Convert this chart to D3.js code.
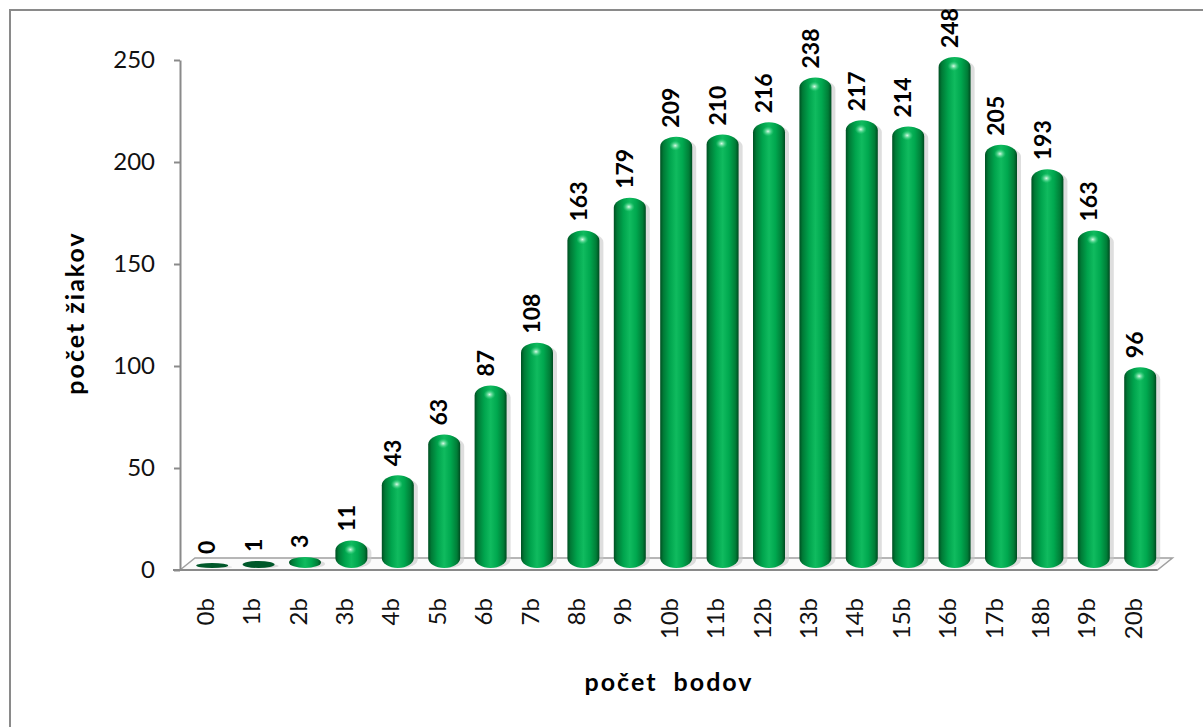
<!DOCTYPE html>
<meta charset="utf-8">
<style>
  body { margin: 0; background: #fff; }
  svg { display: block; font-family: Lato, "Open Sans", sans-serif; }
</style>
<svg width="1203" height="727" id="chart"></svg>
<script src="https://cdn.jsdelivr.net/npm/d3@7"></script>
<script>
var categories = ["0b","1b","2b","3b","4b","5b","6b","7b","8b","9b","10b","11b","12b","13b","14b","15b","16b","17b","18b","19b","20b"];
var counts = [0,1,3,11,43,63,87,108,163,179,209,210,216,238,217,214,248,205,193,163,96];
var yTicks = [0,50,100,150,200,250];

var svg = d3.select("#chart");

// outer frame, runs off the right and bottom edge like the original
svg.append("rect")
  .attr("x", 10).attr("y", 10)
  .attr("width", 1210).attr("height", 740)
  .attr("fill", "none").attr("stroke", "#8a8a8a").attr("stroke-width", 2);

var x = d3.scaleBand().domain(categories).range([182, 1156.4]);
var y = d3.scaleLinear().domain([0, 250]).range([570, 60]);
var depthX = 7, depthY = -7, barW = 32;

var defs = svg.append("defs");
var cyl = defs.append("linearGradient").attr("id", "cyl");
[[0,"#004f22"],[0.1,"#007a36"],[0.3,"#00a44d"],[0.5,"#10bb5f"],[0.7,"#00a84f"],[0.9,"#007d37"],[1,"#004a20"]]
  .forEach(function(s) { cyl.append("stop").attr("offset", s[0]).attr("stop-color", s[1]); });
var shine = defs.append("radialGradient").attr("id", "shine");
shine.append("stop").attr("offset", 0).attr("stop-color", "#e8fff0").attr("stop-opacity", 0.95);
shine.append("stop").attr("offset", 1).attr("stop-color", "#3fe08a").attr("stop-opacity", 0);

// 3d floor
var x0 = 180, x1 = x.range()[1];
svg.append("path")
  .attr("d", "M" + x0 + ",570L" + (x0 + 15) + ",558L" + (x1 + 16) + ",558L" + (x1 + 1) + ",570Z")
  .attr("fill", "#fafafa").attr("stroke", "#a0a0a0").attr("stroke-width", 1.5);
svg.append("line")
  .attr("x1", 173).attr("x2", x1 + 1).attr("y1", 570).attr("y2", 570)
  .attr("stroke", "#8a8a8a").attr("stroke-width", 2);

// y axis
var yAxis = d3.axisLeft(y).tickValues(yTicks).tickSize(6).tickPadding(19).tickSizeOuter(0);
var gy = svg.append("g").attr("transform", "translate(180,0)").call(yAxis);
gy.selectAll("path, line").attr("stroke", "#8a8a8a").attr("stroke-width", 2);
gy.selectAll("text").attr("font-size", 24).attr("fill", "#111").attr("font-family", "Lato");

// bars
var bars = svg.append("g").selectAll("g").data(counts).join("g");
var baseY = 568;
bars.each(function(d, i) {
  var g = d3.select(this);
  var cx = x(categories[i]) + x.bandwidth() / 2 + depthX;
  var top = y(d) + depthY;
  var h = Math.max(baseY - top, 5);
  top = baseY - h;
  g.append("rect")
    .attr("x", cx - barW / 2 + 4).attr("y", top + 3)
    .attr("width", barW).attr("height", h - 3)
    .attr("rx", 15).attr("ry", Math.min(9, h / 2))
    .attr("fill", "#c8c8c8").attr("opacity", 0.6);
  g.append("rect")
    .attr("x", cx - barW / 2).attr("y", top)
    .attr("width", barW).attr("height", h)
    .attr("rx", 16).attr("ry", Math.min(10, h / 2))
    .attr("fill", d < 2 ? "#00582a" : "url(#cyl)");
  if (h > 12) {
    g.append("ellipse")
      .attr("cx", cx - 1).attr("cy", top + 9)
      .attr("rx", 6).attr("ry", 5)
      .attr("fill", "url(#shine)");
  }
  g.append("text")
    .attr("transform", "translate(" + (cx - 5) + "," + (top - 9) + ") rotate(-90)")
    .attr("dy", "0.36em")
    .attr("font-size", 23).attr("font-weight", "bold").attr("fill", "#000")
    .text(d);
});

// x labels
svg.append("g").selectAll("text").data(categories).join("text")
  .attr("transform", function(d) { return "translate(" + (x(d) + x.bandwidth() / 2) + ",598) rotate(-90)"; })
  .attr("dy", "0.36em")
  .attr("text-anchor", "end")
  .attr("font-size", 24).attr("fill", "#111")
  .text(function(d) { return d; });

// axis titles
svg.append("text")
  .attr("x", 669).attr("y", 691)
  .attr("text-anchor", "middle")
  .attr("font-size", 25).attr("font-weight", "bold").attr("letter-spacing", 2)
  .attr("xml:space", "preserve")
  .text("počet  bodov");
svg.append("text")
  .attr("transform", "translate(84,313) rotate(-90)")
  .attr("text-anchor", "middle")
  .attr("font-size", 25).attr("font-weight", "bold").attr("letter-spacing", 2)
  .text("počet žiakov");
</script>
